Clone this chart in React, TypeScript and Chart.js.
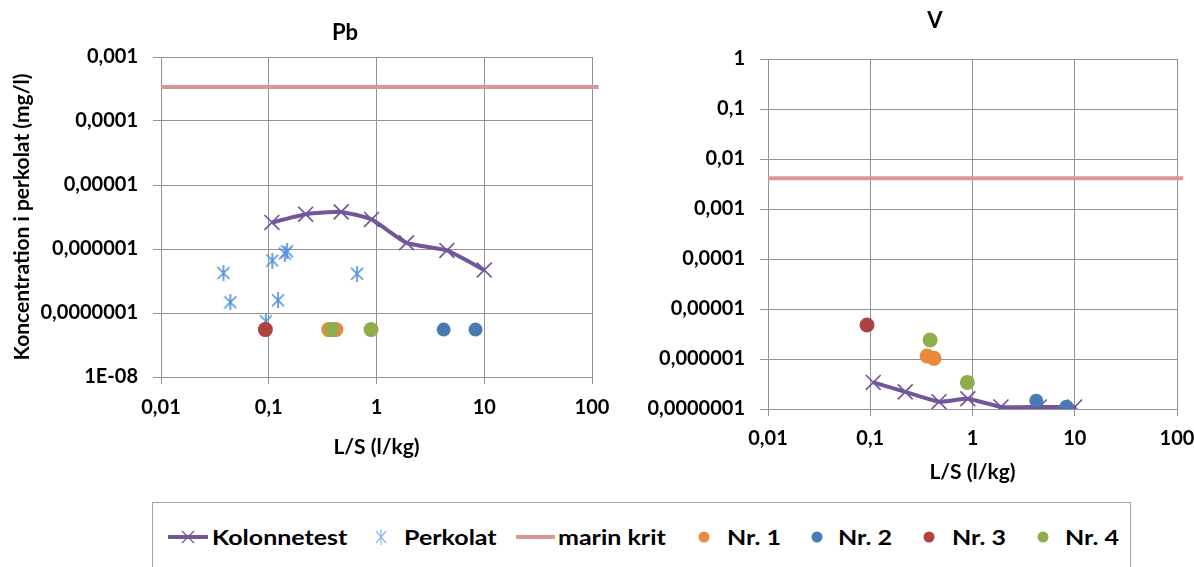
import React, { useEffect, useRef } from "react";
import { Chart, registerables } from "chart.js";

Chart.register(...registerables);

const FONT = "Lato, 'Open Sans', sans-serif";

// ---------- data ----------
const legendLabels = ["Kolonnetest", "Perkolat", "marin krit", "Nr. 1", "Nr. 2", "Nr. 3", "Nr. 4"];

const kolonneLS = [0.107, 0.22, 0.47, 0.9, 1.9, 4.5, 10];
const kolonnePb = [2.6e-6, 3.5e-6, 3.8e-6, 2.9e-6, 1.25e-6, 9.5e-7, 4.7e-7];
const kolonneV = [3.4e-7, 2.2e-7, 1.4e-7, 1.6e-7, 1.1e-7, 1.1e-7, 1.1e-7];

const perkolatLS = [0.038, 0.044, 0.094, 0.108, 0.122, 0.141, 0.148, 0.66];
const perkolatPb = [4.2e-7, 1.47e-7, 7.4e-8, 6.6e-7, 1.58e-7, 8.5e-7, 9.2e-7, 4.1e-7];

const marinKritLS = [0.01, 115];
const marinKritPb = [3.4e-4, 3.4e-4];
const marinKritV = [4.1e-3, 4.1e-3];

const nr1LS = [0.36, 0.42];
const nr1Pb = [5.5e-8, 5.5e-8];
const nr1V = [1.15e-6, 1.03e-6];

const nr2LS = [4.2, 8.3];
const nr2Pb = [5.5e-8, 5.5e-8];
const nr2V = [1.47e-7, 1.11e-7];

const nr3LS = [0.093];
const nr3Pb = [5.5e-8];
const nr3V = [4.8e-6];

const nr4LS = [0.385, 0.89];
const nr4Pb = [5.5e-8, 5.5e-8];
const nr4V = [2.4e-6, 3.4e-7];

const xTickValues = [0.01, 0.1, 1, 10, 100];
const xTickLabels = ["0,01", "0,1", "1", "10", "100"];

const pbYTickValues = [1e-8, 1e-7, 1e-6, 1e-5, 1e-4, 1e-3];
const pbYTickLabels = ["1E-08", "0,0000001", "0,000001", "0,00001", "0,0001", "0,001"];

const vYTickValues = [1e-7, 1e-6, 1e-5, 1e-4, 1e-3, 1e-2, 1e-1, 1];
const vYTickLabels = ["0,0000001", "0,000001", "0,00001", "0,0001", "0,001", "0,01", "0,1", "1"];

// ---------- styles ----------
const PURPLE = "#71569c";
const LIGHTBLUE = "#5393de";
const PINK = "#d99694";
const ORANGE = "#e8893b";
const BLUE = "#4a7ab5";
const RED = "#ae423f";
const GREEN = "#8fae4b";
const GRID = "#939393";

const zip = (xs: number[], ys: number[]) => xs.map((x, i) => ({ x, y: ys[i] }));

function makeAsterisk(color: string, w: number, h: number, lw: number) {
  const c = document.createElement("canvas");
  c.width = w;
  c.height = h;
  const ctx = c.getContext("2d")!;
  ctx.strokeStyle = color;
  ctx.lineWidth = lw;
  ctx.beginPath();
  ctx.moveTo(w / 2, 0);
  ctx.lineTo(w / 2, h);
  ctx.moveTo(1, 2);
  ctx.lineTo(w - 1, h - 2);
  ctx.moveTo(1, h - 2);
  ctx.lineTo(w - 1, 2);
  ctx.stroke();
  return c;
}

const titlePlugin = {
  id: "plotTitle",
  afterDraw(chart: any, _args: any, opts: any) {
    const ctx = chart.ctx;
    ctx.save();
    ctx.font = `normal bold ${opts.size}px ${FONT}`;
    ctx.fillStyle = "#000";
    ctx.textAlign = "center";
    ctx.textBaseline = "middle";
    ctx.fillText(opts.text, opts.x, opts.y);
    ctx.restore();
  },
};

type Cfg = {
  title: string;
  titleX: number;
  titleY: number;
  yVals: number[];
  yLabels: string[];
  kol: number[];
  marin: number[];
  nr1: number[];
  nr2: number[];
  nr3: number[];
  nr4: number[];
  perk?: number[];
  yTitle?: string;
  padTop: number;
  padRight: number;
  yWidth: number;
  xHeight: number;
  xTickPad: number;
  xTitleBottom: number;
};

function buildChart(canvas: HTMLCanvasElement, c: Cfg) {
  const tickFont = { family: FONT, size: 20, weight: "bold" as const };
  const datasets: any[] = [
    {
      label: legendLabels[0],
      data: zip(kolonneLS, c.kol),
      showLine: true,
      borderColor: PURPLE,
      borderWidth: 4,
      tension: 0.15,
      pointStyle: "crossRot",
      pointRadius: 10.5,
      pointBorderColor: PURPLE,
      pointBorderWidth: 1.7,
      pointBackgroundColor: "rgba(0,0,0,0)",
      order: 7,
    },
  ];
  if (c.perk) {
    datasets.push({
      label: legendLabels[1],
      data: zip(perkolatLS, c.perk),
      showLine: false,
      pointStyle: makeAsterisk(LIGHTBLUE, 14, 16, 1.7),
      pointRadius: 8,
      order: 6,
    });
  }
  datasets.push({
    label: legendLabels[2],
    data: zip(marinKritLS, c.marin),
    showLine: true,
    borderColor: PINK,
    borderWidth: 4,
    pointRadius: 0,
    clip: false,
    order: 5,
  });
  const circles: [string, number[], number[], string, number, number][] = [
    [legendLabels[3], nr1LS, c.nr1, ORANGE, 7.5, 4],
    [legendLabels[4], nr2LS, c.nr2, BLUE, 7, 3],
    [legendLabels[5], nr3LS, c.nr3, RED, 7.5, 2],
    [legendLabels[6], nr4LS, c.nr4, GREEN, 7.5, 1],
  ];
  circles.forEach(([label, xs, ys, col, r, order]) => {
    datasets.push({
      label,
      data: zip(xs, ys),
      showLine: false,
      pointStyle: "circle",
      pointRadius: r,
      pointBackgroundColor: col,
      pointBorderColor: col,
      pointBorderWidth: 0,
      order,
    });
  });

  return new Chart(canvas, {
    type: "scatter",
    data: { datasets },
    plugins: [titlePlugin as any],
    options: {
      animation: false,
      responsive: false,
      devicePixelRatio: 1,
      layout: { padding: { top: c.padTop, right: c.padRight, left: 0, bottom: 0 } },
      plugins: {
        legend: { display: false },
        tooltip: { enabled: false },
        plotTitle: { text: c.title, x: c.titleX, y: c.titleY, size: 22 },
      } as any,
      scales: {
        x: {
          type: "logarithmic",
          min: 0.01,
          max: 100,
          afterBuildTicks: (s: any) => {
            s.ticks = xTickValues.map((v) => ({ value: v }));
          },
          afterFit: (s: any) => {
            s.height = c.xHeight;
          },
          ticks: {
            callback: (_v: any, i: number) => xTickLabels[i],
            font: tickFont,
            color: "#000",
            padding: c.xTickPad,
            maxRotation: 0,
            autoSkip: false,
          },
          grid: { color: GRID, tickLength: 7, lineWidth: 1 },
          border: { color: GRID },
          title: {
            display: true,
            text: "L/S (l/kg)",
            font: { family: FONT, size: 21, weight: "bold" },
            color: "#000",
            padding: { top: 0, bottom: c.xTitleBottom },
          },
        },
        y: {
          type: "logarithmic",
          min: c.yVals[0],
          max: c.yVals[c.yVals.length - 1],
          afterBuildTicks: (s: any) => {
            s.ticks = c.yVals.map((v) => ({ value: v }));
          },
          afterFit: (s: any) => {
            s.width = c.yWidth;
          },
          ticks: {
            callback: (_v: any, i: number) => c.yLabels[i],
            font: tickFont,
            color: "#000",
            padding: 15,
            autoSkip: false,
          },
          grid: { color: GRID, tickLength: 8, lineWidth: 1 },
          border: { color: GRID },
          title: {
            display: !!c.yTitle,
            text: c.yTitle || "",
            font: { family: FONT, size: 21, weight: "bold" },
            color: "#000",
            padding: { top: 10, bottom: 0 },
          },
        },
      },
    } as any,
  });
}

function Dot({ color, left }: { color: string; left: number }) {
  return (
    <svg style={{ position: "absolute", left: left - 6, top: 531 }} width={12} height={12}>
      <circle cx={6} cy={6} r={5.5} fill={color} />
    </svg>
  );
}

export default function App() {
  const leftRef = useRef<HTMLCanvasElement>(null);
  const rightRef = useRef<HTMLCanvasElement>(null);

  useEffect(() => {
    const a = buildChart(leftRef.current!, {
      title: "Pb",
      titleX: 345,
      titleY: 33,
      yVals: pbYTickValues,
      yLabels: pbYTickLabels,
      kol: kolonnePb,
      marin: marinKritPb,
      nr1: nr1Pb,
      nr2: nr2Pb,
      nr3: nr3Pb,
      nr4: nr4Pb,
      perk: perkolatPb,
      yTitle: "Koncentration i perkolat (mg/l)",
      padTop: 57,
      padRight: 38,
      yWidth: 161,
      xHeight: 123,
      xTickPad: 12,
      xTitleBottom: 40,
    });
    const b = buildChart(rightRef.current!, {
      title: "V",
      titleX: 335,
      titleY: 21,
      yVals: vYTickValues,
      yLabels: vYTickLabels,
      kol: kolonneV,
      marin: marinKritV,
      nr1: nr1V,
      nr2: nr2V,
      nr3: nr3V,
      nr4: nr4V,
      padTop: 59,
      padRight: 38,
      yWidth: 168,
      xHeight: 91,
      xTickPad: 11,
      xTitleBottom: 15,
    });
    return () => {
      a.destroy();
      b.destroy();
    };
  }, []);

  const textStyle: React.CSSProperties = {
    position: "absolute",
    top: 524,
    height: 26,
    lineHeight: "26px",
    fontFamily: FONT,
    fontWeight: 700,
    fontSize: 20,
    color: "#000",
    whiteSpace: "nowrap",
    transform: "scaleX(1.25)",
    transformOrigin: "0 50%",
  };

  return (
    <div
      style={{
        position: "absolute",
        left: 0,
        top: 0,
        width: 1194,
        height: 567,
        overflow: "hidden",
        background: "#fff",
      }}
    >
      <canvas
        ref={leftRef}
        width={630}
        height={500}
        style={{ position: "absolute", left: 0, top: 0, width: 630, height: 500 }}
      />
      <canvas
        ref={rightRef}
        width={615}
        height={500}
        style={{ position: "absolute", left: 600, top: 0, width: 615, height: 500 }}
      />
      <div
        style={{
          position: "absolute",
          left: 152,
          top: 502,
          width: 979,
          height: 90,
          border: "1px solid #a6a6a6",
          boxSizing: "border-box",
        }}
      />
      {/* Kolonnetest */}
      <svg style={{ position: "absolute", left: 168, top: 527 }} width={42} height={20}>
        <line x1={0} y1={10} x2={40} y2={10} stroke={PURPLE} strokeWidth={4} />
        <line x1={14} y1={4} x2={26} y2={16} stroke={PURPLE} strokeWidth={1.3} />
        <line x1={14} y1={16} x2={26} y2={4} stroke={PURPLE} strokeWidth={1.3} />
      </svg>
      <div style={{ ...textStyle, left: 212 }}>{legendLabels[0]}</div>
      {/* Perkolat */}
      <svg style={{ position: "absolute", left: 375, top: 529 }} width={12} height={16}>
        <line x1={6} y1={0} x2={6} y2={16} stroke="#8db8ea" strokeWidth={1.2} />
        <line x1={1} y1={2} x2={11} y2={14} stroke="#8db8ea" strokeWidth={1.2} />
        <line x1={1} y1={14} x2={11} y2={2} stroke="#8db8ea" strokeWidth={1.2} />
      </svg>
      <div style={{ ...textStyle, left: 404 }}>{legendLabels[1]}</div>
      {/* marin krit */}
      <svg style={{ position: "absolute", left: 516, top: 527 }} width={40} height={20}>
        <line x1={0} y1={10} x2={39} y2={10} stroke={PINK} strokeWidth={4} />
      </svg>
      <div style={{ ...textStyle, left: 558 }}>{legendLabels[2]}</div>
      <Dot color={ORANGE} left={704} />
      <div style={{ ...textStyle, left: 727 }}>{legendLabels[3]}</div>
      <Dot color={BLUE} left={817} />
      <div style={{ ...textStyle, left: 838 }}>{legendLabels[4]}</div>
      <Dot color={RED} left={929} />
      <div style={{ ...textStyle, left: 952 }}>{legendLabels[5]}</div>
      <Dot color={GREEN} left={1043} />
      <div style={{ ...textStyle, left: 1065 }}>{legendLabels[6]}</div>
    </div>
  );
}
